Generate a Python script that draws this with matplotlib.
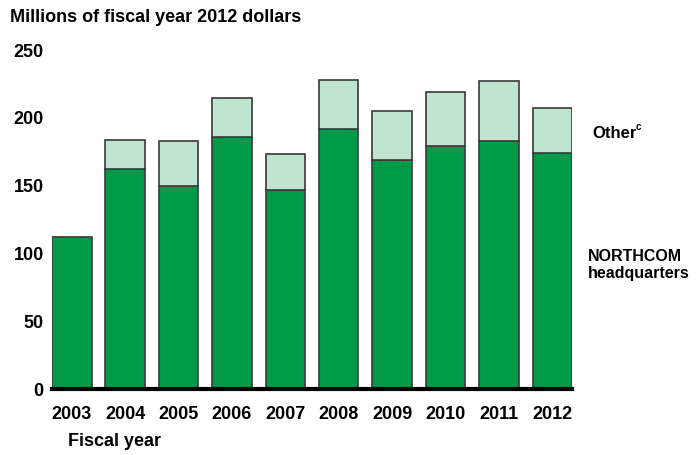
import matplotlib.pyplot as plt
import numpy as np

years = ['2003', '2004', '2005', '2006', '2007', '2008', '2009', '2010', '2011', '2012']
hq = [112, 162, 150, 186, 147, 192, 169, 179, 183, 174]
other = [0, 22, 33, 29, 26, 36, 36, 40, 44, 33]

plt.rcParams['font.family'] = ['Liberation Sans', 'DejaVu Sans']
plt.rcParams['font.weight'] = 'bold'

dark = '#009b48'
light = '#bfe5cf'
edge = '#3a3a3a'

fig = plt.figure(figsize=(6.98, 4.55), dpi=100)
ax = fig.add_axes([0.0745, 0.145, 0.745, 0.745])

x = np.arange(len(years))
w = 0.74
ax.bar(x, hq, width=w, color=dark, edgecolor=edge, linewidth=1.2)
tops = np.array(other)
mask = tops > 0
ax.bar(x[mask], tops[mask], bottom=np.array(hq)[mask], width=w,
       color=light, edgecolor=edge, linewidth=1.2)

ax.set_xlim(-w / 2, len(years) - 1 + w / 2)
ax.set_ylim(0, 250)
ax.set_yticks([0, 50, 100, 150, 200, 250])
ax.set_xticks(x)
ax.set_xticklabels(years)
ax.tick_params(length=0, labelsize=13)
ax.tick_params(axis='y', pad=6)
ax.tick_params(axis='x', pad=12)
for s in ['top', 'right', 'left']:
    ax.spines[s].set_visible(False)
ax.spines['bottom'].set_linewidth(3)
ax.spines['bottom'].set_color('black')
ax.spines['bottom'].set_zorder(5)

fig.text(0.014, 0.962, 'Millions of fiscal year 2012 dollars', fontsize=13,
         fontweight='bold', va='center', ha='left')
fig.text(0.097, 0.03, 'Fiscal year', fontsize=13, fontweight='bold',
         va='center', ha='left')
fig.text(0.848, 0.707, 'Other', fontsize=12,
         fontweight='bold', va='center', ha='left')
fig.text(0.9105, 0.72, 'c', fontsize=7,
         fontweight='bold', va='center', ha='left')
fig.text(0.842, 0.418, 'NORTHCOM\nheadquarters', fontsize=11.5,
         fontweight='bold', va='center', ha='left', linespacing=1.15)

fig.savefig('out.png', dpi=100)
